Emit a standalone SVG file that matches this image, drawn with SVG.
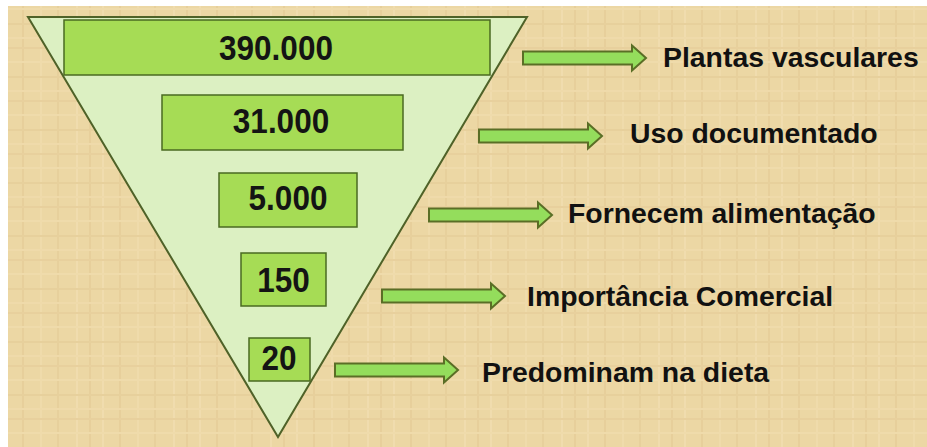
<svg xmlns="http://www.w3.org/2000/svg" width="927" height="447" viewBox="0 0 927 447">
<defs>
<style>
.num{font-family:"Liberation Sans",Arial,sans-serif;font-weight:bold;font-size:35px;fill:#141414;text-anchor:middle}
.lbl{font-family:"Liberation Sans",Arial,sans-serif;font-weight:bold;font-size:28.4px;fill:#111}
.box{fill:#a6dc55;stroke:#4a6a22;stroke-width:1.5}
.arr{fill:#94dd5c;stroke:#5a6e26;stroke-width:2}
</style>
<pattern id="pap" width="97" height="53" patternUnits="userSpaceOnUse">
<rect width="97" height="53" fill="#ecd7a4"/>
<g stroke-width="2" opacity="0.35">
<line x1="6" y1="0" x2="6" y2="53" stroke="#f6e6bf"/>
<line x1="23" y1="0" x2="23" y2="53" stroke="#dcc08a"/>
<line x1="41" y1="0" x2="41" y2="53" stroke="#f4e1b6"/>
<line x1="58" y1="0" x2="58" y2="53" stroke="#ddc28c"/>
<line x1="77" y1="0" x2="77" y2="53" stroke="#f6e6c0"/>
<line x1="90" y1="0" x2="90" y2="53" stroke="#dbbf88"/>
<line x1="0" y1="9" x2="97" y2="9" stroke="#f4e2b8"/>
<line x1="0" y1="24" x2="97" y2="24" stroke="#dcc18b"/>
<line x1="0" y1="38" x2="97" y2="38" stroke="#f4e0b5"/>
<line x1="0" y1="48" x2="97" y2="48" stroke="#dec38e"/>
</g>
</pattern>
<path id="arrow" class="arr" d="M0,-6.5 H109 V-12.5 L123,0 L109,12.5 V6.5 H0 Z"/>
</defs>
<rect width="927" height="447" fill="#ffffff"/>
<rect x="8" y="6" width="919" height="441" fill="url(#pap)"/>
<g id="funnel">
<polygon points="28,17 527,17 278,437" fill="#dcf0c2" stroke="#4f6228" stroke-width="2"/>
</g>
<g id="n1"><rect class="box" x="64" y="20" width="426" height="55"/><text class="num" transform="translate(276,60) scale(0.9,1)">390.000</text></g>
<g id="n2"><rect class="box" x="162" y="95" width="241" height="55"/><text class="num" transform="translate(281,133) scale(0.9,1)">31.000</text></g>
<g id="n3"><rect class="box" x="219" y="173" width="138" height="54"/><text class="num" transform="translate(288,210) scale(0.9,1)">5.000</text></g>
<g id="n4"><rect class="box" x="241" y="253" width="85" height="53"/><text class="num" transform="translate(283.5,292) scale(0.9,1)">150</text></g>
<g id="n5"><rect class="box" x="249" y="338" width="61" height="43"/><text class="num" transform="translate(279,370) scale(0.9,1)">20</text></g>
<g id="connectors">
<use href="#arrow" x="523" y="58"/>
<use href="#arrow" x="479" y="136"/>
<use href="#arrow" x="429" y="215"/>
<use href="#arrow" x="382" y="296"/>
<use href="#arrow" x="335" y="370"/>
</g>
<g id="l1"><text class="lbl" x="663" y="67">Plantas vasculares</text></g>
<g id="l2"><text class="lbl" x="630" y="143">Uso documentado</text></g>
<g id="l3"><text class="lbl" x="568" y="223">Fornecem alimentação</text></g>
<g id="l4"><text class="lbl" x="527" y="306">Importância Comercial</text></g>
<g id="l5"><text class="lbl" x="482" y="382">Predominam na dieta</text></g>
</svg>
